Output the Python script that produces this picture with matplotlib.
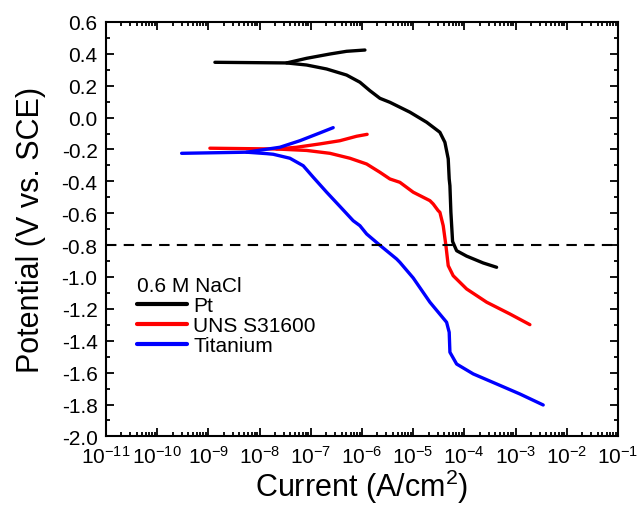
import numpy as np
import matplotlib
matplotlib.use("Agg")
import matplotlib.pyplot as plt
from matplotlib.ticker import LogLocator, LogFormatterMathtext, MultipleLocator, NullFormatter

plt.rcParams['font.family'] = ['Liberation Sans', 'DejaVu Sans']
plt.rcParams['mathtext.fontset'] = 'custom'
plt.rcParams['mathtext.rm'] = 'Liberation Sans'
plt.rcParams['mathtext.it'] = 'Liberation Sans:italic'
plt.rcParams['mathtext.default'] = 'regular'

# Pt (log10 current density, potential V vs SCE)
pt_cat_logi = [-8.871, -7.471, -7.080, -6.689, -6.299, -6.039, -5.844, -5.648, -5.453, -5.062,
               -4.736, -4.477, -4.379, -4.314, -4.295, -4.281, -4.262, -4.229, -4.150, -3.955,
               -3.631, -3.369]
pt_cat_e = [0.347, 0.343, 0.330, 0.305, 0.267, 0.222, 0.169, 0.121, 0.096, 0.034,
            -0.029, -0.092, -0.155, -0.259, -0.385, -0.427, -0.594, -0.777, -0.835, -0.869,
            -0.912, -0.939]
pt_an_logi = [-7.471, -7.080, -6.625, -6.299, -5.941]
pt_an_e = [0.343, 0.372, 0.399, 0.416, 0.424]

# UNS S31600
ss_cat_logi = [-8.969, -7.666, -7.080, -6.625, -6.234, -5.908, -5.648, -5.453, -5.258, -4.998,
               -4.672, -4.607, -4.510, -4.477, -4.412, -4.359, -4.314, -4.217, -3.955, -3.564,
               -3.109, -2.719]
ss_cat_e = [-0.192, -0.197, -0.206, -0.224, -0.255, -0.291, -0.343, -0.385, -0.406, -0.468,
            -0.521, -0.542, -0.584, -0.594, -0.678, -0.803, -0.929, -0.992, -1.075, -1.158,
            -1.232, -1.299]
ss_an_logi = [-7.666, -7.275, -6.820, -6.430, -6.104, -5.898]
ss_an_e = [-0.197, -0.186, -0.165, -0.145, -0.117, -0.105]

# Titanium
ti_cat_logi = [-9.521, -8.252, -7.861, -7.732, -7.406, -7.146, -6.951, -6.689, -6.430, -6.170,
               -6.039, -5.908, -5.648, -5.322, -5.258, -4.998, -4.672, -4.346, -4.295, -4.281,
               -4.150, -3.826, -3.369, -2.914, -2.459]
ti_cat_e = [-0.224, -0.217, -0.226, -0.230, -0.255, -0.302, -0.374, -0.468, -0.557, -0.647,
            -0.678, -0.730, -0.801, -0.887, -0.908, -1.006, -1.158, -1.284, -1.347, -1.472,
            -1.546, -1.608, -1.671, -1.734, -1.803]
ti_an_logi = [-8.252, -7.602, -7.211, -6.820, -6.561]
ti_an_e = [-0.217, -0.186, -0.145, -0.096, -0.063]

reference_potential = -0.8

fig = plt.figure(figsize=(6.38, 5.06), dpi=100)
ax = fig.add_axes([0.166, 0.1356, 0.8025, 0.819])

lw = 2.4
def draw(logi, e, color, label=None):
    ax.plot(10 ** np.array(logi), e, color=color, lw=lw, solid_capstyle='round',
            solid_joinstyle='round', label=label)

draw(pt_cat_logi, pt_cat_e, 'black', 'Pt')
draw(pt_an_logi, pt_an_e, 'black')
draw(ss_cat_logi, ss_cat_e, '#ff0000', 'UNS S31600')
draw(ss_an_logi, ss_an_e, '#ff0000')
draw(ti_cat_logi, ti_cat_e, '#0000ff', 'Titanium')
draw(ti_an_logi, ti_an_e, '#0000ff')

ax.axhline(reference_potential, color='black', lw=1.5, ls=(0, (5, 3.5)))

ax.set_xscale('log')
ax.set_xlim(1e-11, 1e-1)
ax.set_ylim(-2.0, 0.6)
ax.xaxis.set_major_locator(LogLocator(base=10, numticks=20))
ax.xaxis.set_minor_locator(LogLocator(base=10, subs=np.arange(2, 10), numticks=100))
ax.xaxis.set_major_formatter(LogFormatterMathtext())
ax.xaxis.set_minor_formatter(NullFormatter())
ax.yaxis.set_major_locator(MultipleLocator(0.2))
ax.yaxis.set_minor_locator(MultipleLocator(0.1))
ax.yaxis.set_major_formatter(plt.FuncFormatter(lambda v, p: f"{v:.1f}"))

ax.tick_params(which='both', direction='in', top=True, right=True, width=1.3)
ax.tick_params(which='major', length=6, labelsize=15, pad=6)
ax.tick_params(which='minor', length=3)
for s in ax.spines.values():
    s.set_linewidth(1.5)

ax.set_xlabel('Current (A/cm$^2$)', fontsize=22, labelpad=0)
ax.set_ylabel('Potential (V vs. SCE)', fontsize=22, labelpad=11)

leg = ax.legend(title='0.6 M NaCl', loc='upper left', bbox_to_anchor=(0.061, 0.388),
                frameon=False, fontsize=15, title_fontsize=15, handlelength=2.4,
                handletextpad=0.3, labelspacing=0.06, borderaxespad=0, borderpad=0)
leg._legend_box.align = 'left'
leg._legend_box.sep = 1
for h in leg.legend_handles:
    h.set_linewidth(3)

fig.savefig('out.png', dpi=100)
